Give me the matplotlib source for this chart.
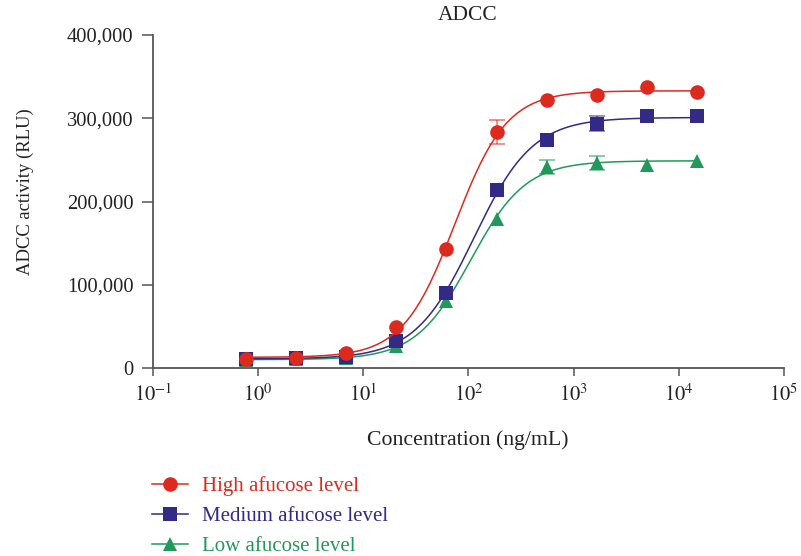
"""ADCC dose-response curves for three afucosylation levels with 4PL fits."""

import matplotlib
matplotlib.use("Agg")
import matplotlib.pyplot as plt
from matplotlib.lines import Line2D
from matplotlib.ticker import FixedLocator, FuncFormatter, NullLocator
import numpy as np


plt.rcParams["font.family"] = ["Liberation Serif", "DejaVu Serif"]
plt.rcParams["mathtext.fontset"] = "stix"

# concentrations (ng/mL), 3-fold dilution series
CONCENTRATION = [0.762, 2.286, 6.859, 20.58, 61.73, 185.2, 555.6, 1666.7, 5000.0, 15000.0]

HIGH_RLU = [11200, 12400, 17600, 49000, 142700, 283500, 321800, 328500, 337000, 331500]
MEDIUM_RLU = [10800, 12400, 12800, 32800, 90500, 214000, 273500, 293500, 303000, 303000]
LOW_RLU = [10000, 10500, 11500, 26400, 81000, 178700, 241500, 246600, 244000, 249000]

# standard deviations (only the ones wider than the marker are non-zero)
HIGH_SD = [0, 0, 0, 0, 0, 14000, 0, 0, 0, 0]
MEDIUM_SD = [0, 0, 0, 0, 0, 0, 0, 9000, 0, 0]
LOW_SD = [0, 0, 0, 0, 0, 0, 8000, 8600, 0, 0]

SERIES_LABELS = ["High afucose level", "Medium afucose level", "Low afucose level"]
SERIES_COLORS = ["#dc2a1f", "#332a86", "#21995b"]
SERIES_MARKERS = ["o", "s", "^"]


def fit_4pl(x, y):
    """Grid search over EC50/Hill slope, least squares for bottom/top."""
    logx = np.log10(np.asarray(x, dtype=float))
    y = np.asarray(y, dtype=float)
    log_ec50 = np.linspace(0.5, 3.5, 301)[:, None, None]
    hill = np.linspace(0.5, 4.0, 351)[None, :, None]
    f = 1.0 / (1.0 + 10 ** ((log_ec50 - logx) * hill))
    g = 1.0 - f
    # normal equations for y = bottom * g + top * f
    a11 = (g * g).sum(-1)
    a12 = (g * f).sum(-1)
    a22 = (f * f).sum(-1)
    b1 = (g * y).sum(-1)
    b2 = (f * y).sum(-1)
    det = a11 * a22 - a12 ** 2
    bottom = (a22 * b1 - a12 * b2) / det
    top = (a11 * b2 - a12 * b1) / det
    resid = ((bottom[..., None] * g + top[..., None] * f - y) ** 2).sum(-1)
    i, j = np.unravel_index(np.argmin(resid), resid.shape)
    return bottom[i, j], top[i, j], 10 ** log_ec50[i, 0, 0], hill[0, j, 0]


def curve_4pl(x, bottom, top, ec50, h):
    return bottom + (top - bottom) / (1.0 + (ec50 / x) ** h)


def main() -> None:
    fig = plt.figure(figsize=(8.01, 5.56), dpi=100)
    ax = fig.add_axes([153 / 801, 1 - 368 / 556, (784 - 153) / 801, (368 - 35) / 556])

    values = [HIGH_RLU, MEDIUM_RLU, LOW_RLU]
    errors = [HIGH_SD, MEDIUM_SD, LOW_SD]
    x = np.array(CONCENTRATION)
    xs = np.logspace(np.log10(x.min()), np.log10(x.max()), 400)

    handles = []
    for k, (y, sd, label, color, marker) in enumerate(
            zip(values, errors, SERIES_LABELS, SERIES_COLORS, SERIES_MARKERS)):
        y = np.array(y, dtype=float)
        sd = np.array(sd, dtype=float)
        z = 10 - k  # high level sits on top of the others
        params = fit_4pl(x, y)
        ax.plot(xs, curve_4pl(xs, *params), color=color, lw=1.1, zorder=z)
        has_sd = sd > 0
        ax.errorbar(x[has_sd], y[has_sd], yerr=sd[has_sd], fmt="none", ecolor=color,
                    alpha=0.65, elinewidth=1.1, capsize=5.8, capthick=1.1, zorder=z)
        ax.plot(x, y, linestyle="none", marker=marker, markersize=10.5,
                color=color, markeredgewidth=0, zorder=z + 0.5)
        handles.append(Line2D([], [], color=color, lw=1.1, marker=marker,
                              markersize=10.5, markeredgewidth=0, label=label))

    ax.set_xscale("log")
    ax.set_xlim(0.1, 1e5)
    ax.set_ylim(0, 400000)
    ax.xaxis.set_major_locator(FixedLocator([10.0 ** k for k in range(-1, 6)]))
    ax.xaxis.set_minor_locator(NullLocator())
    ax.xaxis.set_major_formatter(FuncFormatter(lambda v, _: rf"$10^{{{int(round(np.log10(v)))}}}$"))
    ax.set_yticks([0, 100000, 200000, 300000, 400000])
    ax.yaxis.set_major_formatter(FuncFormatter(lambda v, _: f"{int(v):,}"))

    for side in ("top", "right"):
        ax.spines[side].set_visible(False)
    for side in ("left", "bottom"):
        ax.spines[side].set_color("#555555")
        ax.spines[side].set_linewidth(1.3)
    ax.tick_params(axis="both", direction="out", colors="#555555", labelcolor="#222222",
                   labelsize=14.8, width=1.1)
    ax.tick_params(axis="y", length=8, pad=6)
    ax.tick_params(axis="x", length=6, pad=6)
    ax.patch.set_alpha(0)

    fig.text(468 / 801, 1 - 15 / 556, "ADCC", ha="center", va="center", fontsize=15.5, color="#222222")
    fig.text(25 / 801, 1 - 192 / 556, "ADCC activity (RLU)", ha="center", va="center",
             rotation=90, fontsize=13.4, color="#222222")
    fig.text(468 / 801, 1 - 440 / 556, "Concentration (ng/mL)", ha="center", va="center",
             fontsize=15.7, color="#222222")

    fig.legend(handles=handles, loc="upper left", bbox_to_anchor=(152 / 801, 1 - 476 / 556),
               frameon=False, fontsize=15, labelcolor="linecolor", borderpad=0,
               borderaxespad=0, handlelength=1.75, handletextpad=0.65, labelspacing=0.5)

    fig.savefig("out.png", dpi=100)
    plt.close(fig)


if __name__ == "__main__":
    main()
